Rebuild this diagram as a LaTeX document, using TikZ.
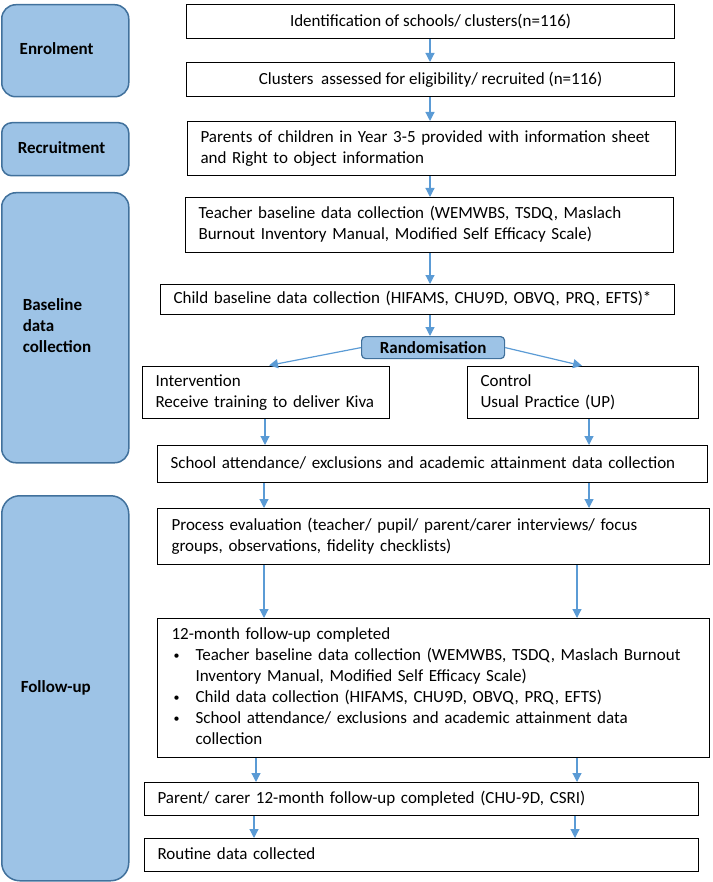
\documentclass[tikz,border=0pt]{standalone}
\usepackage{fontspec}
\setmainfont{Carlito}
\usetikzlibrary{arrows.meta}
\setlength{\parindent}{0pt}
\definecolor{arrblue}{HTML}{5B9BD5}
\definecolor{stagefill}{HTML}{9DC3E6}
\definecolor{stageline}{HTML}{41719C}
\newcommand\lns[1]{\begin{tabular}{@{}l@{}}#1\end{tabular}}
\newcommand\bul{\hspace*{2pt}\makebox[22pt][l]{\raisebox{1pt}{\fontsize{12}{21}\selectfont •}}}
\newcommand\ind{\hspace*{24pt}}
\begin{document}
\begin{tikzpicture}[x=1pt,y=-1pt,
  box/.style={draw=black, line width=1.1pt, inner sep=0pt, anchor=north west, font=\fontsize{17}{21}\selectfont},
  lbox/.style={box, align=left},
  stage/.style={draw=stageline, fill=stagefill, line width=1.5pt, rounded corners=14pt, anchor=north west, inner sep=0pt, align=left, font=\fontsize{17}{21}\selectfont\bfseries},
  randbox/.style={draw=stageline, fill=stagefill, line width=1.2pt, rounded corners=4pt, anchor=north west, inner sep=0pt, font=\fontsize{17}{21}\selectfont\bfseries},
  arr/.style={draw=arrblue, line width=1.2pt, -{Triangle[length=9pt,width=9pt]}}]
\useasboundingbox (0,0) rectangle (712,882);

% stage boxes
\node[stage, minimum width=127pt, minimum height=92pt, inner xsep=18pt, text width=91pt] (enr) at (1,4) {\lns{Enrolment}};
\node[stage, rounded corners=10pt, minimum width=127pt, minimum height=53pt, inner xsep=16pt, text width=95pt] (rec) at (1,122) {\lns{Recruitment}};
\node[stage, minimum width=127pt, minimum height=270pt, inner xsep=21pt, text width=85pt] (bas) at (1,192) {\lns{Baseline\\data\\collection}};
\node[stage, rounded corners=18pt, minimum width=127pt, minimum height=385pt, inner xsep=19pt, text width=89pt] (fol) at (1,495) {\lns{Follow-up}};

% flow boxes
\node[box, minimum width=488pt, minimum height=34pt] (b1) at (186,4) {Identification of schools/ clusters(n=116)};
\node[box, minimum width=488pt, minimum height=34pt] (b2) at (186,62) {Clusters\ \ assessed for eligibility/ recruited (n=116)};
\node[lbox, minimum width=488pt, minimum height=54pt, inner xsep=13pt, text width=462pt] (b3) at (187,121) {\lns{Parents of children in Year 3-5 provided with information sheet\\and Right to object information}};
\node[lbox, minimum width=488pt, minimum height=55pt, inner xsep=13pt, text width=462pt] (b4) at (185,197) {\lns{Teacher baseline data collection (WEMWBS, TSDQ, Maslach\\Burnout Inventory Manual, Modified Self Efficacy Scale)}};
\node[lbox, minimum width=514pt, minimum height=30pt, inner xsep=13pt, text width=488pt] (b5) at (160,284) {\lns{Child baseline data collection (HIFAMS, CHU9D, OBVQ, PRQ, EFTS)*}};
\node[randbox, minimum width=143pt, minimum height=22pt] (rnd) at (361,336) {Randomisation};
\node[lbox, minimum width=247pt, minimum height=52pt, inner xsep=13pt, text width=221pt] (int) at (142,366) {\lns{Intervention\\Receive training to deliver Kiva}};
\node[lbox, minimum width=231pt, minimum height=52pt, inner xsep=13pt, text width=205pt] (ctl) at (467,366) {\lns{Control\\Usual Practice (UP)}};
\node[lbox, minimum width=550pt, minimum height=37pt, inner xsep=13pt, text width=524pt] (sch) at (157,445) {\lns{School attendance/ exclusions and academic attainment data collection}};
\node[lbox, minimum width=552pt, minimum height=56pt, inner xsep=14pt, text width=524pt] (proc) at (157,508) {\lns{Process evaluation (teacher/ pupil/ parent/carer interviews/ focus\\groups, observations, fidelity checklists)}};
\node[lbox, minimum width=552pt, minimum height=139pt, inner xsep=14pt, text width=524pt] (fu) at (157,618) {\lns{12-month follow-up completed\\
\bul Teacher baseline data collection (WEMWBS, TSDQ, Maslach Burnout\\
\ind Inventory Manual, Modified Self Efficacy Scale)\\
\bul Child data collection (HIFAMS, CHU9D, OBVQ, PRQ, EFTS)\\
\bul School attendance/ exclusions and academic attainment data\\
\ind collection}};
\node[lbox, minimum width=554pt, minimum height=33pt, inner xsep=13pt, text width=528pt] (par) at (144,782) {\lns{Parent/ carer 12-month follow-up completed (CHU-9D, CSRI)}};
\node[lbox, minimum width=554pt, minimum height=33pt, inner xsep=13pt, text width=528pt] (rout) at (144,838) {\lns{Routine data collected}};

% column coordinates
\coordinate (cx) at (430,0);
\coordinate (cL1) at (265,0);
\coordinate (cL2) at (264,0);
\coordinate (cL3) at (256,0);
\coordinate (cL4) at (254,0);
\coordinate (cR1) at (589,0);
\coordinate (cR2) at (577,0);
\coordinate (cR3) at (575,0);

% connectors
\draw[arr] (b1.south -| cx) -- (b2.north -| cx);
\draw[arr] (b2.south -| cx) -- (b3.north -| cx);
\draw[arr] (b3.south -| cx) -- (b4.north -| cx);
\draw[arr] (b4.south -| cx) -- (b5.north -| cx);
\draw[arr] (b5.south -| cx) -- (rnd.north -| cx);
\draw[arr, shorten >=3pt] (rnd.west) -- (int.north);
\draw[arr, shorten >=1pt] (rnd.east) -- (ctl.north);
\draw[arr] (int.south -| cL1) -- (sch.north -| cL1);
\draw[arr] (ctl.south -| cR1) -- (sch.north -| cR1);
\draw[arr] (sch.south -| cL2) -- (proc.north -| cL2);
\draw[arr] (sch.south -| cR1) -- (proc.north -| cR1);
\draw[arr] (proc.south -| cL2) -- (fu.north -| cL2);
\draw[arr] (proc.south -| cR2) -- (fu.north -| cR2);
\draw[arr] (fu.south -| cL3) -- (par.north -| cL3);
\draw[arr] (fu.south -| cR2) -- (par.north -| cR2);
\draw[arr] (par.south -| cL4) -- (rout.north -| cL4);
\draw[arr] (par.south -| cR3) -- (rout.north -| cR3);
\end{tikzpicture}
\end{document}
